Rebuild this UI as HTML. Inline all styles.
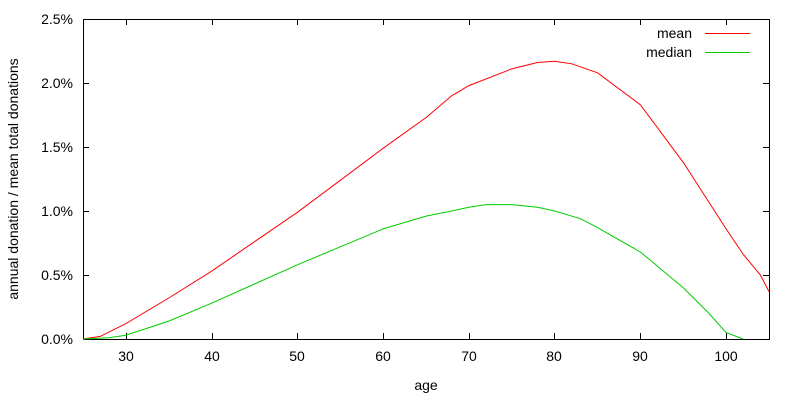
<!DOCTYPE html>
<html><head><style>body{margin:0;background:#fff}svg{display:block}text{font-family:"Liberation Sans",sans-serif;font-size:14px;fill:#000}</style></head>
<body>
<svg width="800" height="400" viewBox="0 0 800 400">
<g stroke="#000" stroke-width="1" fill="none">
<rect x="83.5" y="19.5" width="686" height="320"/>
<path d="M83 83.5h6M83 147.5h6M83 211.5h6M83 275.5h6M769 83.5h-6M769 147.5h-6M769 211.5h-6M769 275.5h-6"/>
<path d="M126.5 339v-6M212.5 339v-6M297.5 339v-6M383.5 339v-6M469.5 339v-6M554.5 339v-6M640.5 339v-6M726.5 339v-6M126.5 19v6M212.5 19v6M297.5 19v6M383.5 19v6M469.5 19v6M554.5 19v6M640.5 19v6M726.5 19v6"/>
</g>
<g text-anchor="end">
<text x="73" y="344">0.0%</text><text x="73" y="280">0.5%</text><text x="73" y="216">1.0%</text><text x="73" y="152">1.5%</text><text x="73" y="88">2.0%</text><text x="73" y="24">2.5%</text>
</g>
<g text-anchor="middle">
<text x="126" y="361">30</text><text x="212" y="361">40</text><text x="297" y="361">50</text><text x="383" y="361">60</text><text x="469" y="361">70</text><text x="554" y="361">80</text><text x="640" y="361">90</text><text x="726" y="361">100</text>
<text x="426" y="390">age</text>
<text transform="translate(18,179) rotate(-90)">annual donation / mean total donations</text>
</g>
<text x="692" y="38" text-anchor="end">mean</text>
<text x="692" y="57" text-anchor="end">median</text>
<path d="M705 33.5h45" stroke="#f00" fill="none"/>
<path d="M705 52.5h45" stroke="#0c0" fill="none"/>
<polyline fill="none" stroke="#f00" points="83,339 100.2,336.4 125.9,323.6 168.8,298 211.6,271.2 254.5,241.7 297.4,212.3 340.3,180.3 383.1,148.3 426,117.6 451.7,95.8 468.9,85.6 511.8,68.9 537.5,62.5 554.6,61.2 571.8,63.8 597.5,72.8 640.4,104.8 683.3,162.4 726.1,228.9 743.3,254.5 760.4,275 769,291.6"/>
<polyline fill="none" stroke="#0c0" points="83,339 108.7,337.7 125.9,335.2 168.8,321.1 211.6,303.2 254.5,284 297.4,264.8 340.3,246.8 383.1,228.9 426,216.1 451.7,211 468.9,207.2 486,204.6 511.8,204.6 537.5,207.2 554.6,211 580.4,218.7 597.5,227.6 640.4,252 683.3,287.8 709,313.4 726.1,332.6 743.3,339"/>
</svg>
</body></html>
